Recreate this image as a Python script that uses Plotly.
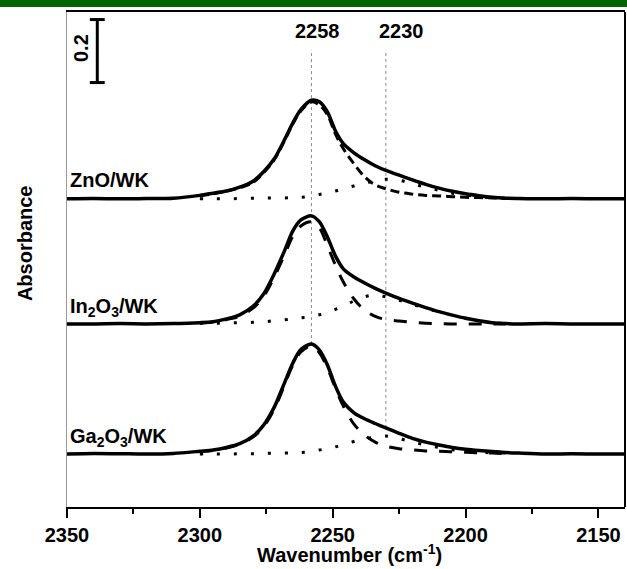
import plotly.graph_objects as go

# Wavenumber grid for the measured spectra (cm-1)
wn = [2350, 2340, 2330, 2320, 2310, 2300, 2295, 2290, 2285, 2280, 2276, 2272,
      2268, 2265, 2262, 2258, 2255, 2252, 2249, 2246, 2242, 2238, 2234, 2230,
      2225, 2220, 2215, 2210, 2205, 2200, 2195, 2190, 2185, 2180, 2170, 2160,
      2150, 2140]

# Measured absorbance above each sample's own baseline
zno_total = [0.000, 0.001, 0.000, 0.001, 0.002, 0.011, 0.018, 0.025, 0.037, 0.056,
             0.086, 0.127, 0.190, 0.241, 0.283, 0.313, 0.308, 0.276, 0.216, 0.175,
             0.146, 0.124, 0.105, 0.090, 0.075, 0.060, 0.046, 0.034, 0.024, 0.016,
             0.010, 0.005, 0.002, 0.001, 0.000, 0.001, 0.000, 0.000]
in2o3_total = [0.000, 0.000, 0.001, 0.000, 0.001, 0.004, 0.007, 0.016, 0.029, 0.056,
               0.095, 0.159, 0.235, 0.295, 0.330, 0.343, 0.324, 0.276, 0.216, 0.175,
               0.149, 0.130, 0.113, 0.098, 0.081, 0.066, 0.052, 0.039, 0.028, 0.018,
               0.010, 0.004, 0.001, 0.000, 0.001, 0.000, 0.000, 0.000]
ga2o3_total = [0.000, 0.002, 0.001, 0.000, 0.002, 0.009, 0.013, 0.021, 0.033, 0.057,
               0.092, 0.149, 0.229, 0.289, 0.332, 0.349, 0.330, 0.283, 0.216, 0.165,
               0.131, 0.112, 0.097, 0.083, 0.066, 0.050, 0.038, 0.029, 0.021, 0.015,
               0.011, 0.008, 0.005, 0.003, 0.000, 0.001, 0.000, 0.000]

# Wavenumber grid for the fitted components
wn_fit = [2300, 2295, 2290, 2285, 2280, 2276, 2272, 2268, 2265, 2262, 2258, 2255,
          2252, 2249, 2246, 2242, 2238, 2234, 2230, 2225, 2220, 2215, 2210, 2205,
          2200, 2195, 2190, 2185]

# Fitted band at 2258 cm-1
zno_band_2258 = [0.010, 0.016, 0.024, 0.035, 0.052, 0.083, 0.124, 0.187, 0.238, 0.279,
                 0.308, 0.298, 0.267, 0.206, 0.159, 0.111, 0.070, 0.044, 0.032, 0.021,
                 0.015, 0.011, 0.009, 0.007, 0.005, 0.004, 0.003, 0.002]
in2o3_band_2258 = [0.003, 0.006, 0.014, 0.025, 0.050, 0.088, 0.149, 0.222, 0.279, 0.311,
                   0.324, 0.305, 0.248, 0.187, 0.133, 0.079, 0.044, 0.024, 0.014, 0.009,
                   0.005, 0.002, 0.001, 0.000, 0.000, 0.000, 0.000, 0.000]
ga2o3_band_2258 = [0.008, 0.011, 0.019, 0.032, 0.054, 0.087, 0.143, 0.222, 0.283, 0.324,
                   0.343, 0.321, 0.273, 0.210, 0.152, 0.095, 0.060, 0.038, 0.025, 0.017,
                   0.013, 0.010, 0.009, 0.007, 0.006, 0.004, 0.003, 0.001]

# Fitted band at 2230 cm-1
zno_band_2230 = [0.000, 0.000, 0.000, 0.001, 0.002, 0.002, 0.003, 0.003, 0.004, 0.005,
                 0.008, 0.014, 0.019, 0.025, 0.032, 0.041, 0.049, 0.057, 0.062, 0.059,
                 0.048, 0.037, 0.027, 0.018, 0.012, 0.007, 0.003, 0.002]
in2o3_band_2230 = [0.002, 0.002, 0.003, 0.004, 0.005, 0.007, 0.010, 0.013, 0.016, 0.019,
                   0.023, 0.029, 0.036, 0.046, 0.056, 0.073, 0.086, 0.092, 0.086, 0.075,
                   0.062, 0.050, 0.038, 0.028, 0.018, 0.010, 0.004, 0.001]
ga2o3_band_2230 = [0.000, 0.000, 0.000, 0.001, 0.001, 0.002, 0.003, 0.003, 0.004, 0.005,
                   0.008, 0.013, 0.017, 0.023, 0.030, 0.040, 0.048, 0.054, 0.057, 0.049,
                   0.038, 0.029, 0.021, 0.014, 0.010, 0.006, 0.004, 0.003]

sample_names = ["ZnO/WK", "In<sub>2</sub>O<sub>3</sub>/WK", "Ga<sub>2</sub>O<sub>3</sub>/WK"]
band_positions = [2258, 2230]
scale_bar_value = 0.2
x_ticks = [2350, 2300, 2250, 2200, 2150]

# Stacking offsets and label heights (plot layout)
offsets = [0.978, 0.581, 0.168]
label_y = [1.038, 0.632, 0.222]

FONT = "Liberation Sans, Arial, sans-serif"

totals = [zno_total, in2o3_total, ga2o3_total]
bands_a = [zno_band_2258, in2o3_band_2258, ga2o3_band_2258]
bands_b = [zno_band_2230, in2o3_band_2230, ga2o3_band_2230]
dash_a = ["9px,5px", "13px,12px", "13px,12px"]

fig = go.Figure()
for i in range(3):
    off = offsets[i]
    fig.add_trace(go.Scatter(
        x=wn_fit, y=[v + off for v in bands_b[i]], mode="lines",
        line=dict(color="black", width=3, dash="3px,14px", shape="spline"),
        hoverinfo="skip", showlegend=False))
    fig.add_trace(go.Scatter(
        x=wn_fit, y=[v + off for v in bands_a[i]], mode="lines",
        line=dict(color="black", width=3, dash=dash_a[i], shape="spline"),
        hoverinfo="skip", showlegend=False))
    fig.add_trace(go.Scatter(
        x=wn, y=[v + off for v in totals[i]], mode="lines",
        line=dict(color="black", width=3.5, shape="spline", smoothing=0.8),
        hoverinfo="skip", showlegend=False))
    fig.add_annotation(x=2350, y=label_y[i], xref="x", yref="y",
                       text=sample_names[i], showarrow=False,
                       xanchor="left", yanchor="middle", xshift=1,
                       font=dict(family=FONT, size=20, color="black", weight="bold"))

# Marker lines at the band positions, ending on the lowest spectrum
shapes = []
for pos, shift in zip(band_positions, [6, 16]):
    end_y = offsets[2] + ga2o3_total[wn.index(pos)]
    shapes.append(dict(type="line", xref="x", yref="y", x0=pos, x1=pos,
                       y0=end_y, y1=1.451, layer="below",
                       line=dict(color="#8a8a8a", width=1, dash="dot")))
    fig.add_annotation(x=pos, y=1.511, xref="x", yref="y", text=str(pos),
                       showarrow=False, xshift=shift,
                       font=dict(family=FONT, size=20, color="black", weight="bold"))

# Scale bar
bar_x = 2338.6
bar_bottom = 1.347
bar_top = bar_bottom + scale_bar_value
cap = 2.8
shapes += [
    dict(type="line", xref="x", yref="y", x0=bar_x, x1=bar_x, y0=bar_bottom, y1=bar_top,
         line=dict(color="black", width=3)),
    dict(type="line", xref="x", yref="y", x0=bar_x - cap, x1=bar_x + cap, y0=bar_top, y1=bar_top,
         line=dict(color="black", width=3)),
    dict(type="line", xref="x", yref="y", x0=bar_x - cap, x1=bar_x + cap, y0=bar_bottom, y1=bar_bottom,
         line=dict(color="black", width=3)),
]
fig.add_annotation(x=2344.7, y=bar_bottom + scale_bar_value / 2 + 0.01, xref="x", yref="y",
                   text=str(scale_bar_value), showarrow=False, textangle=-90,
                   font=dict(family=FONT, size=20, color="black", weight="bold"))

# Right frame edge and page header band
shapes += [
    dict(type="line", xref="paper", yref="paper", x0=1, x1=1, y0=0, y1=1,
         line=dict(color="black", width=2)),
    dict(type="rect", xref="paper", yref="paper", x0=-0.13, x1=1.05, y0=1.0101, y1=1.03,
         line=dict(width=0), fillcolor="#006400"),
]

fig.add_annotation(x=-0.075, y=0.838, xref="paper", yref="y", text="Absorbance",
                   showarrow=False, textangle=-90, xanchor="center", yanchor="middle",
                   font=dict(family=FONT, size=20, color="black", weight="bold"))
fig.add_annotation(x=0.507, y=-0.093, xref="paper", yref="paper",
                   text="Wavenumber (cm<sup>-1</sup>)", showarrow=False,
                   xanchor="center", yanchor="middle",
                   font=dict(family=FONT, size=20, color="black", weight="bold"))

fig.update_layout(
    width=627, height=569,
    margin=dict(l=67, r=2, t=12, b=62),
    paper_bgcolor="white", plot_bgcolor="white",
    shapes=shapes,
    xaxis=dict(range=[2350, 2140], showgrid=False, zeroline=False,
               showline=True, linecolor="black", linewidth=2, mirror=True,
               ticks="outside", ticklen=9, tickwidth=2, tickcolor="black",
               tickvals=x_ticks,
               tickfont=dict(family=FONT, size=20, color="black", weight="bold"),
               minor=dict(ticks="outside", ticklen=5, tickwidth=2, tickcolor="black",
                          tickvals=[2325, 2275, 2225, 2175])),
    yaxis=dict(range=[0, 1.571], showgrid=False, zeroline=False,
               showline=True, linecolor="#9a9a9a", linewidth=1,
               showticklabels=False, ticks=""),
)

fig.write_html("out.html", config={"displayModeBar": False})
